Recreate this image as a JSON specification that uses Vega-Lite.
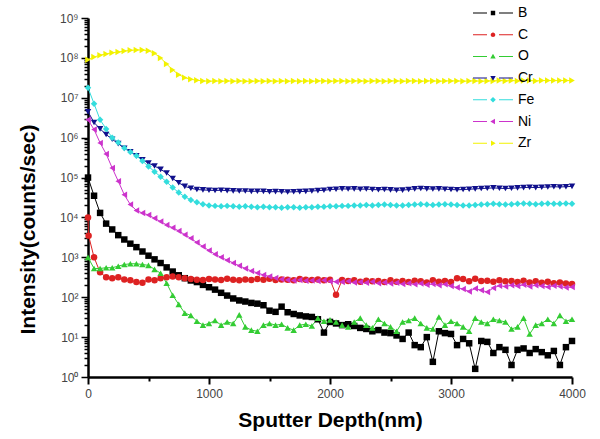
{
  "$schema": "https://vega.github.io/schema/vega-lite/v6.json",
  "width": 484,
  "height": 359,
  "autosize": {"type": "none"},
  "padding": {"left": 88, "top": 18, "right": 28, "bottom": 62},
  "background": "white",
  "config": {"view": {"stroke": null}, "font": "Liberation Sans"},
  "data": {"values": [
    {"depth":0,"B":100000,"C":10000,"O":1000,"Cr":4470000,"Fe":17800000,"Ni":2800000,"Zr":90000000},
    {"depth":5,"C":3500},
    {"depth":50,"B":35000,"C":1000,"O":525,"Cr":2400000,"Fe":7100000,"Ni":1600000,"Zr":105000000},
    {"depth":100,"B":13000,"C":420,"O":525,"Cr":1660000,"Fe":2800000,"Ni":740000,"Zr":117000000},
    {"depth":150,"B":7000,"C":316,"O":550,"Cr":1200000,"Fe":1660000,"Ni":390000,"Zr":126000000},
    {"depth":200,"B":5000,"C":300,"O":550,"Cr":910000,"Fe":1000000,"Ni":174000,"Zr":135000000},
    {"depth":250,"B":3600,"C":316,"O":600,"Cr":710000,"Fe":760000,"Ni":81000,"Zr":140000000},
    {"depth":300,"B":2800,"C":280,"O":660,"Cr":540000,"Fe":550000,"Ni":37000,"Zr":148000000},
    {"depth":350,"B":2200,"C":265,"O":690,"Cr":440000,"Fe":440000,"Ni":21000,"Zr":155000000},
    {"depth":400,"B":1800,"C":240,"O":690,"Cr":350000,"Fe":350000,"Ni":15000,"Zr":158000000},
    {"depth":450,"B":1400,"C":230,"O":660,"Cr":280000,"Fe":260000,"Ni":12900,"Zr":158000000},
    {"depth":500,"B":1100,"C":280,"O":630,"Cr":230000,"Fe":190000,"Ni":11500,"Zr":150000000},
    {"depth":550,"B":890,"C":265,"O":500,"Cr":195000,"Fe":140000,"Ni":9500,"Zr":130000000},
    {"depth":600,"B":720,"C":300,"O":400,"Cr":160000,"Fe":105000,"Ni":7900,"Zr":100000000},
    {"depth":650,"B":560,"C":316,"O":224,"Cr":130000,"Fe":78000,"Ni":6500,"Zr":70000000},
    {"depth":700,"B":440,"C":330,"O":112,"Cr":95000,"Fe":56000,"Ni":5500,"Zr":50000000},
    {"depth":750,"B":355,"C":316,"O":66,"Cr":74000,"Fe":42000,"Ni":4600,"Zr":38000000},
    {"depth":800,"B":300,"C":300,"O":40,"Cr":60000,"Fe":33000,"Ni":3700,"Zr":32000000},
    {"depth":850,"B":263,"C":285,"O":35,"Cr":54000,"Fe":27500,"Ni":3000,"Zr":29000000},
    {"depth":900,"B":240,"C":275,"O":25,"Cr":50000,"Fe":24000,"Ni":2350,"Zr":27500000},
    {"depth":950,"B":204,"C":270,"O":20,"Cr":49000,"Fe":21500,"Ni":1860,"Zr":26500000},
    {"depth":1000,"B":178,"C":285,"O":22,"Cr":48000,"Fe":20000,"Ni":1480,"Zr":26000000},
    {"depth":1050,"B":155,"C":280,"O":26,"Cr":47500,"Fe":19500,"Ni":1200,"Zr":26500000},
    {"depth":1100,"B":129,"C":270,"O":20,"Cr":48000,"Fe":19000,"Ni":1000,"Zr":26000000},
    {"depth":1150,"B":110,"C":290,"O":24,"Cr":47000,"Fe":19500,"Ni":850,"Zr":26500000},
    {"depth":1200,"B":93,"C":275,"O":22,"Cr":46500,"Fe":19000,"Ni":725,"Zr":26000000},
    {"depth":1250,"B":83,"C":265,"O":36,"Cr":46000,"Fe":18500,"Ni":617,"Zr":26500000},
    {"depth":1300,"B":78,"C":280,"O":18,"Cr":46000,"Fe":19000,"Ni":525,"Zr":26000000},
    {"depth":1350,"B":72,"C":270,"O":15,"Cr":45000,"Fe":18500,"Ni":457,"Zr":26000000},
    {"depth":1400,"B":69,"C":285,"O":14,"Cr":45500,"Fe":18000,"Ni":407,"Zr":26500000},
    {"depth":1450,"B":63,"C":275,"O":20,"Cr":45000,"Fe":18500,"Ni":363,"Zr":26000000},
    {"depth":1500,"B":46,"C":290,"O":22,"Cr":44000,"Fe":18000,"Ni":331,"Zr":26500000},
    {"depth":1550,"B":43,"C":270,"O":20,"Cr":44500,"Fe":18000,"Ni":302,"Zr":26000000},
    {"depth":1600,"B":58,"C":280,"O":21,"Cr":44000,"Fe":17500,"Ni":282,"Zr":26500000},
    {"depth":1650,"B":42,"C":275,"O":17,"Cr":43500,"Fe":18000,"Ni":269,"Zr":26000000},
    {"depth":1700,"B":38,"C":265,"O":15,"Cr":44000,"Fe":18000,"Ni":263,"Zr":26500000},
    {"depth":1750,"B":35,"C":285,"O":20,"Cr":44500,"Fe":17500,"Ni":270,"Zr":26000000},
    {"depth":1800,"B":33,"C":275,"O":21,"Cr":45000,"Fe":18000,"Ni":258,"Zr":26500000},
    {"depth":1850,"B":32,"C":270,"O":19,"Cr":46000,"Fe":18000,"Ni":262,"Zr":26000000},
    {"depth":1900,"B":28,"C":280,"O":30,"Cr":47000,"Fe":18500,"Ni":255,"Zr":26500000},
    {"depth":1950,"B":13,"C":265,"O":25,"Cr":48000,"Fe":18500,"Ni":265,"Zr":26500000},
    {"depth":2000,"B":24,"C":275,"O":27,"Cr":50000,"Fe":19000,"Ni":250,"Zr":26000000},
    {"depth":2050,"B":22,"C":115,"O":24,"Cr":51000,"Fe":19000,"Ni":245,"Zr":26500000},
    {"depth":2100,"B":20,"C":270,"O":20,"Cr":52000,"Fe":19500,"Ni":240,"Zr":26500000},
    {"depth":2150,"B":21,"C":255,"O":18,"Cr":51500,"Fe":19500,"Ni":250,"Zr":26000000},
    {"depth":2200,"B":19,"C":265,"O":24,"Cr":52000,"Fe":20000,"Ni":235,"Zr":26500000},
    {"depth":2250,"B":17,"C":245,"O":30,"Cr":51000,"Fe":20000,"Ni":240,"Zr":26500000},
    {"depth":2300,"B":16,"C":260,"O":20,"Cr":51500,"Fe":20500,"Ni":230,"Zr":26000000},
    {"depth":2350,"B":14,"C":250,"O":17,"Cr":50000,"Fe":20000,"Ni":245,"Zr":26500000},
    {"depth":2400,"B":15,"C":255,"O":28,"Cr":49500,"Fe":20500,"Ni":225,"Zr":26500000},
    {"depth":2450,"B":13,"C":240,"O":22,"Cr":50000,"Fe":21000,"Ni":235,"Zr":26000000},
    {"depth":2500,"B":12.6,"C":265,"O":18,"Cr":49000,"Fe":20500,"Ni":220,"Zr":26500000},
    {"depth":2550,"B":11,"C":245,"O":14,"Cr":48000,"Fe":20000,"Ni":230,"Zr":26500000},
    {"depth":2600,"B":9,"C":255,"O":24,"Cr":48500,"Fe":20000,"Ni":215,"Zr":26000000},
    {"depth":2650,"B":13,"C":240,"O":26,"Cr":50000,"Fe":20500,"Ni":225,"Zr":26500000},
    {"depth":2700,"B":6.3,"C":260,"O":30,"Cr":52000,"Fe":21000,"Ni":210,"Zr":26500000},
    {"depth":2750,"B":5.6,"C":250,"O":22,"Cr":53000,"Fe":21500,"Ni":220,"Zr":26000000},
    {"depth":2800,"B":10,"C":235,"O":17,"Cr":52000,"Fe":21000,"Ni":205,"Zr":26500000},
    {"depth":2850,"B":2.4,"C":265,"O":16,"Cr":51500,"Fe":20500,"Ni":215,"Zr":26500000},
    {"depth":2900,"B":14,"C":245,"O":32,"Cr":52000,"Fe":21000,"Ni":200,"Zr":26000000},
    {"depth":2950,"B":12.6,"C":255,"O":20,"Cr":51000,"Fe":21500,"Ni":210,"Zr":26500000},
    {"depth":3000,"B":12,"C":240,"O":25,"Cr":50000,"Fe":21000,"Ni":190,"Zr":26500000},
    {"depth":3050,"B":6.3,"C":300,"O":22,"Cr":49500,"Fe":20500,"Ni":175,"Zr":26500000},
    {"depth":3100,"B":9,"C":285,"O":18,"Cr":50000,"Fe":20000,"Ni":160,"Zr":26000000},
    {"depth":3150,"B":7,"C":250,"O":14,"Cr":51000,"Fe":20000,"Ni":140,"Zr":26500000},
    {"depth":3200,"B":1.6,"C":290,"O":30,"Cr":52000,"Fe":20500,"Ni":165,"Zr":26500000},
    {"depth":3250,"B":8,"C":255,"O":24,"Cr":53000,"Fe":21000,"Ni":150,"Zr":26000000},
    {"depth":3300,"B":7.6,"C":260,"O":22,"Cr":54000,"Fe":21500,"Ni":135,"Zr":26500000},
    {"depth":3350,"B":4,"C":245,"O":28,"Cr":55000,"Fe":22000,"Ni":170,"Zr":26500000},
    {"depth":3400,"B":5.6,"C":265,"O":26,"Cr":54000,"Fe":21500,"Ni":195,"Zr":27000000},
    {"depth":3450,"B":4.8,"C":250,"O":24,"Cr":53000,"Fe":21000,"Ni":185,"Zr":26500000},
    {"depth":3500,"B":2,"C":255,"O":16,"Cr":54000,"Fe":21500,"Ni":200,"Zr":27000000},
    {"depth":3550,"B":4.8,"C":240,"O":18,"Cr":55000,"Fe":22000,"Ni":190,"Zr":26500000},
    {"depth":3600,"B":5.2,"C":260,"O":30,"Cr":56000,"Fe":22500,"Ni":205,"Zr":27000000},
    {"depth":3650,"B":4,"C":235,"O":12,"Cr":57000,"Fe":22000,"Ni":185,"Zr":27000000},
    {"depth":3700,"B":5,"C":250,"O":20,"Cr":56000,"Fe":21500,"Ni":200,"Zr":26500000},
    {"depth":3750,"B":4.2,"C":230,"O":22,"Cr":57000,"Fe":22000,"Ni":190,"Zr":27000000},
    {"depth":3800,"B":3.5,"C":245,"O":28,"Cr":58000,"Fe":22500,"Ni":180,"Zr":27000000},
    {"depth":3850,"B":4.5,"C":225,"O":22,"Cr":59000,"Fe":22000,"Ni":195,"Zr":27000000},
    {"depth":3900,"B":2,"C":235,"O":35,"Cr":58000,"Fe":22000,"Ni":185,"Zr":27000000},
    {"depth":3950,"B":5.6,"C":220,"O":25,"Cr":59000,"Fe":22500,"Ni":175,"Zr":27000000},
    {"depth":4000,"B":8,"C":215,"O":28,"Cr":60000,"Fe":22000,"Ni":180,"Zr":27000000}
  ]},
  "transform": [
    {"fold": ["B", "C", "O", "Cr", "Fe", "Ni", "Zr"], "as": ["element", "value"]},
    {"filter": "isValid(datum.value)"}
  ],
  "encoding": {
    "x": {
      "field": "depth", "type": "quantitative",
      "scale": {"domain": [0, 4000], "nice": false, "zero": false},
      "axis": {
        "values": [0, 500, 1000, 1500, 2000, 2500, 3000, 3500, 4000],
        "labelExpr": "datum.value % 1000 === 0 ? datum.label : ''",
        "format": "d",
        "labelOverlap": false,
        "labelFlush": false,
        "grid": false,
        "title": "Sputter Depth(nm)",
        "titleFont": "Liberation Sans", "titleFontSize": 21, "titleFontWeight": "bold", "titleColor": "black",
        "titlePadding": 10,
        "labelFont": "Liberation Sans", "labelFontSize": 12, "labelColor": "#444444", "labelPadding": 4,
        "domainColor": "black", "domainWidth": 2.5,
        "tickColor": "black", "tickWidth": 2,
        "tickSize": {"condition": {"test": "datum.value % 1000 === 0", "value": 7}, "value": 4}
      }
    },
    "y": {
      "field": "value", "type": "quantitative",
      "scale": {"type": "log", "domain": [1, 1000000000], "nice": false},
      "axis": {
        "values": [1,2,3,4,5,6,7,8,9,10,20,30,40,50,60,70,80,90,100,200,300,400,500,600,700,800,900,1000,2000,3000,4000,5000,6000,7000,8000,9000,10000,20000,30000,40000,50000,60000,70000,80000,90000,100000,200000,300000,400000,500000,600000,700000,800000,900000,1000000,2000000,3000000,4000000,5000000,6000000,7000000,8000000,9000000,10000000,20000000,30000000,40000000,50000000,60000000,70000000,80000000,90000000,100000000,200000000,300000000,400000000,500000000,600000000,700000000,800000000,900000000,1000000000],
        "labelExpr": "indexof([1,10,100,1000,10000,100000,1000000,10000000,100000000,1000000000], datum.value) >= 0 ? '10' + ['⁰','¹','²','³','⁴','⁵','⁶','⁷','⁸','⁹'][indexof([1,10,100,1000,10000,100000,1000000,10000000,100000000,1000000000], datum.value)] : ''",
        "labelOverlap": false,
        "labelFlush": false,
        "grid": false,
        "title": "Intensity(counts/sec)",
        "titleFont": "Liberation Sans", "titleFontSize": 21, "titleFontWeight": "bold", "titleColor": "black",
        "titlePadding": 21, "titleY": 211,
        "labelFont": "Liberation Sans", "labelFontSize": 12, "labelColor": "#444444", "labelPadding": 3,
        "domainColor": "black", "domainWidth": 2.5,
        "tickColor": "black", "tickWidth": 1.5,
        "tickSize": {"condition": {"test": "indexof([1,10,100,1000,10000,100000,1000000,10000000,100000000,1000000000], datum.value) >= 0", "value": 7}, "value": 4}
      }
    }
  },
  "resolve": {"scale": {"color": "independent", "shape": "independent"}},
  "layer": [
    {
      "mark": {"type": "line", "strokeWidth": 1},
      "encoding": {
        "color": {
          "field": "element", "type": "nominal",
          "scale": {"domain": ["B", "C", "O", "Cr", "Fe", "Ni", "Zr"], "range": ["#000000", "#dd2222", "#33cc33", "#10108c", "#33dddd", "#cc33cc", "#f2f200"]},
          "legend": null
        }
      }
    },
    {
      "mark": {"type": "point", "filled": true, "size": 42, "opacity": 1},
      "encoding": {
        "color": {
          "field": "element", "type": "nominal",
          "scale": {"domain": ["B", "C", "O", "Cr", "Fe", "Ni", "Zr"], "range": ["#000000", "#dd2222", "#33cc33", "#10108c", "#33dddd", "#cc33cc", "#f2f200"]},
          "legend": null
        },
        "shape": {
          "field": "element", "type": "nominal",
          "scale": {"domain": ["B", "C", "O", "Cr", "Fe", "Ni", "Zr"], "range": ["square", "circle", "triangle-up", "triangle-down", "diamond", "triangle-left", "triangle-right"]},
          "legend": null
        }
      }
    },
    {
      "transform": [{"filter": "false"}],
      "mark": {"type": "point", "filled": true, "size": 42, "opacity": 1},
      "encoding": {
        "color": {
          "field": "element", "type": "nominal",
          "scale": {"domain": ["B", "C", "O", "Cr", "Fe", "Ni", "Zr"], "range": ["#000000", "#dd2222", "#33cc33", "#10108c", "#33dddd", "#cc33cc", "#f2f200"]},
          "legend": {
            "title": null, "orient": "none", "legendX": 395, "legendY": -15, "padding": 0,
            "symbolSize": 400, "labelOffset": 15, "labelFontSize": 14, "labelFont": "Liberation Sans", "labelColor": "black",
            "rowPadding": 4.7, "symbolStrokeWidth": 0
          }
        },
        "shape": {
          "field": "element", "type": "nominal",
          "scale": {"domain": ["B", "C", "O", "Cr", "Fe", "Ni", "Zr"], "range": [
            "M-2,-0.05H-0.6V0.05H-2ZM0.6,-0.05H2V0.05H0.6ZM-0.22,-0.22H0.22V0.22H-0.22Z",
            "M-2,-0.05H-0.6V0.05H-2ZM0.6,-0.05H2V0.05H0.6ZM-0.23,0A0.23,0.23 0 1 0 0.23,0A0.23,0.23 0 1 0 -0.23,0Z",
            "M-2,-0.05H-0.6V0.05H-2ZM0.6,-0.05H2V0.05H0.6ZM0,-0.27L0.27,0.2L-0.27,0.2Z",
            "M-2,-0.05H-0.6V0.05H-2ZM0.6,-0.05H2V0.05H0.6ZM0,0.27L0.27,-0.2L-0.27,-0.2Z",
            "M-2,-0.05H-0.6V0.05H-2ZM0.6,-0.05H2V0.05H0.6ZM0,-0.28L0.28,0L0,0.28L-0.28,0Z",
            "M-2,-0.05H-0.6V0.05H-2ZM0.6,-0.05H2V0.05H0.6ZM-0.27,0L0.2,-0.27L0.2,0.27Z",
            "M-2,-0.05H-0.6V0.05H-2ZM0.6,-0.05H2V0.05H0.6ZM0.27,0L-0.2,-0.27L-0.2,0.27Z"
          ]},
          "legend": {
            "title": null, "orient": "none", "legendX": 395, "legendY": -15, "padding": 0,
            "symbolSize": 400, "labelOffset": 15, "labelFontSize": 14, "labelFont": "Liberation Sans", "labelColor": "black",
            "rowPadding": 4.7, "symbolStrokeWidth": 0
          }
        }
      }
    }
  ]
}
